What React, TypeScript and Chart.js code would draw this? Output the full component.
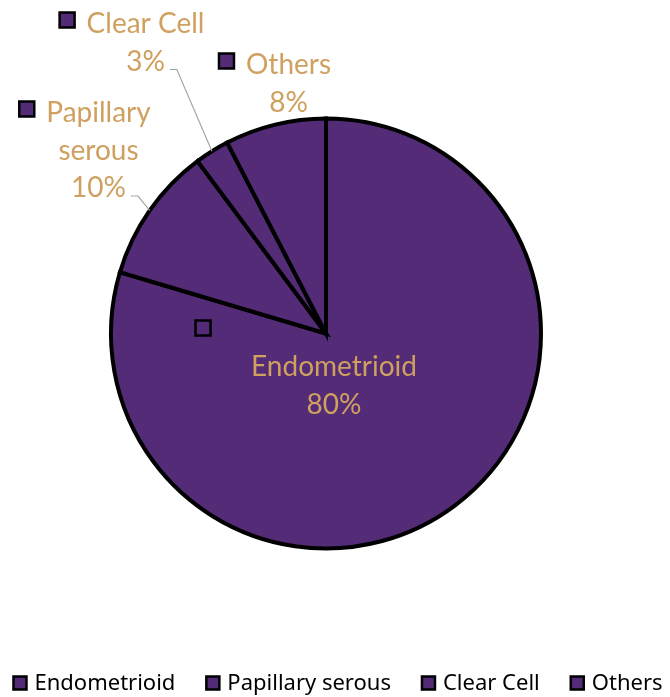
import { useEffect, useRef } from 'react';
import { Chart, registerables } from 'chart.js';

Chart.register(...registerables);

const categories = ['Endometrioid', 'Papillary serous', 'Clear Cell', 'Others'];
const shares = [79.6, 10.2, 2.6, 7.6];
const labelLines = [['Endometrioid'], ['Papillary', 'serous'], ['Clear Cell'], ['Others']];

const SLICE = '#532B77';
const LABEL = '#CFA05F';
const LEADER = '#A6A6A6';

// label layout, relative to the pie centre (px)
const labelLayout: { dx: number; dy: number; marker?: { dx: number; dy: number }; leader: boolean }[] = [
  { dx: 8, dy: 42.5, marker: { dx: -123, dy: -5.5 }, leader: false },
  { dx: -227.5, dy: -211.5, leader: true },
  { dx: -180.5, dy: -300.5, leader: true },
  { dx: -37.5, dy: -259.5, leader: false },
];

const labelPlugin = {
  id: 'sliceLabels',
  afterDatasetsDraw(chart: any) {
    const ctx: CanvasRenderingContext2D = chart.ctx;
    const meta = chart.getDatasetMeta(0);
    const data = chart.data.datasets[0].data as number[];
    const total = data.reduce((a, b) => a + b, 0);
    const LH = 37.5;
    ctx.save();
    ctx.font = '28px Lato';
    ctx.textAlign = 'center';
    ctx.textBaseline = 'alphabetic';
    meta.data.forEach((arc: any, i: number) => {
      const { x, y, startAngle, endAngle, outerRadius } = arc.getProps(
        ['x', 'y', 'startAngle', 'endAngle', 'outerRadius'],
        true
      );
      const lay = labelLayout[i];
      const lines = [...labelLines[i], Math.round((data[i] / total) * 100) + '%'];
      const lx = x + lay.dx;
      const ly = y + lay.dy;
      ctx.fillStyle = LABEL;
      lines.forEach((t, k) => ctx.fillText(t, lx, ly + k * LH));
      let mx: number, my: number;
      if (lay.marker) {
        mx = x + lay.marker.dx;
        my = y + lay.marker.dy;
      } else {
        const w = ctx.measureText(lines[0]).width;
        mx = lx - w / 2 - 11 - 8.5;
        my = ly - 13;
      }
      ctx.fillStyle = SLICE;
      ctx.fillRect(mx - 7.5, my - 7.5, 15, 15);
      ctx.strokeStyle = '#000';
      ctx.lineWidth = 2.5;
      ctx.strokeRect(mx - 7.5, my - 7.5, 15, 15);
      if (lay.leader) {
        const last = lines[lines.length - 1];
        const w = ctx.measureText(last).width;
        const sx = lx + w / 2 + 5;
        const sy = ly + (lines.length - 1) * LH - 1;
        const mid = (startAngle + endAngle) / 2;
        const ex = x + Math.cos(mid) * outerRadius;
        const ey = y + Math.sin(mid) * outerRadius;
        ctx.beginPath();
        ctx.moveTo(sx, sy);
        ctx.lineTo(sx + 7, sy);
        ctx.lineTo(ex, ey);
        ctx.strokeStyle = LEADER;
        ctx.lineWidth = 1.2;
        ctx.stroke();
      }
    });

    // legend row
    ctx.font = '22px "Noto Sans"';
    ctx.textAlign = 'left';
    ctx.textBaseline = 'middle';
    const box = 13;
    const gap = 8;
    const sep = 31;
    const widths = categories.map((c) => ctx.measureText(c).width);
    const totalW = widths.reduce((a, w) => a + box + gap + w, 0) + sep * (categories.length - 1);
    let x0 = chart.width / 2 + 3 - totalW / 2;
    const yc = 683;
    categories.forEach((c, i) => {
      ctx.fillStyle = SLICE;
      ctx.fillRect(x0, yc - box / 2, box, box);
      ctx.strokeStyle = '#000';
      ctx.lineWidth = 2.5;
      ctx.strokeRect(x0, yc - box / 2, box, box);
      ctx.fillStyle = '#000';
      ctx.fillText(c, x0 + box + gap, yc + 1);
      x0 += box + gap + widths[i] + sep;
    });
    ctx.restore();
  },
};

export default function App() {
  const ref = useRef<HTMLCanvasElement>(null);
  useEffect(() => {
    if (!ref.current) return;
    const chart = new Chart(ref.current, {
      type: 'pie',
      data: {
        labels: categories,
        datasets: [
          {
            data: shares,
            backgroundColor: SLICE,
            borderColor: '#000000',
            borderWidth: 4,
            borderJoinStyle: 'miter',
            hoverOffset: 0,
          } as any,
        ],
      },
      options: {
        responsive: false,
        animation: false,
        events: [],
        layout: { padding: { left: 109, right: 127, top: 116.5, bottom: 146.5 } },
        plugins: { legend: { display: false }, tooltip: { enabled: false } },
      },
      plugins: [labelPlugin],
    });
    let alive = true;
    Promise.all([document.fonts.load('28px Lato'), document.fonts.load('22px "Noto Sans"')]).then(() => {
      if (alive) chart.draw();
    });
    return () => {
      alive = false;
      chart.destroy();
    };
  }, []);
  return (
    <div style={{ position: 'fixed', left: 0, top: 0, width: 670, height: 697, background: '#fff' }}>
      <canvas ref={ref} width={670} height={697} />
    </div>
  );
}
